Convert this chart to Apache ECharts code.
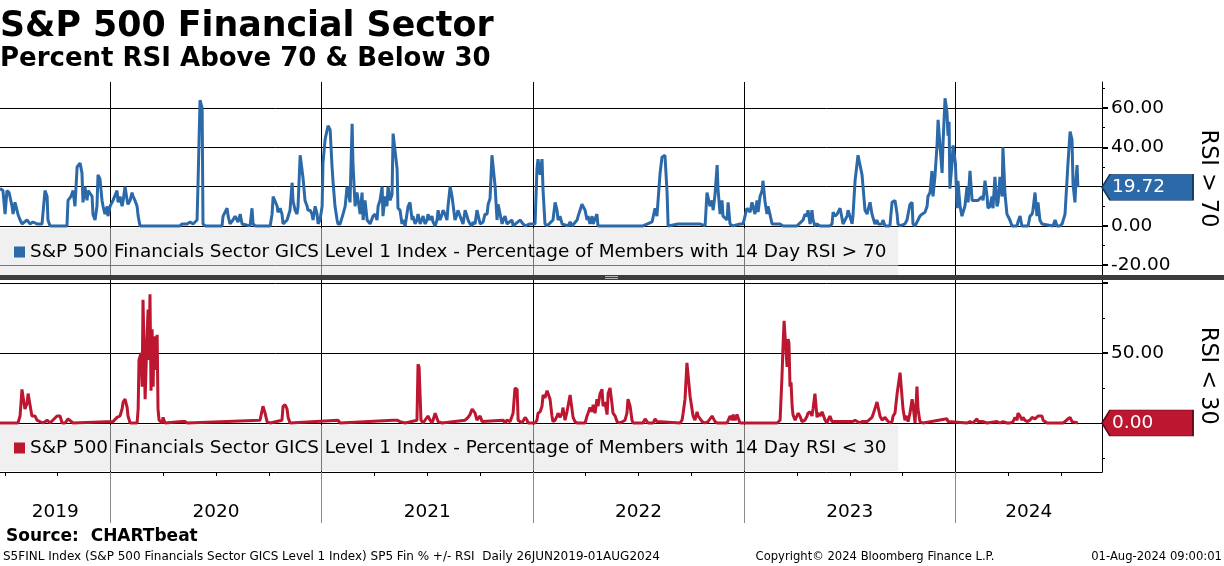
<!DOCTYPE html>
<html><head><meta charset="utf-8">
<script src="https://cdn.jsdelivr.net/npm/echarts@6/dist/echarts.min.js"></script>
<style>html,body{margin:0;padding:0;background:#fff}#c{width:1224px;height:566px}</style>
</head><body><div id="c"></div>
<script>
// ---------- categories / ticks ----------
const years = [2019, 2020, 2021, 2022, 2023, 2024];
const ticks70 = [-20, 0, 20, 40, 60];
const labels70 = [-20, 0, 40, 60];
const minor70 = [-10, 10, 30, 50, 70];
const ticks30 = [0, 50, 100];
const labels30 = [50];
const minor30 = [-25, 25, 75];

const name70 = 'S&P 500 Financials Sector GICS Level 1 Index - Percentage of Members with 14 Day RSI > 70';
const name30 = 'S&P 500 Financials Sector GICS Level 1 Index - Percentage of Members with 14 Day RSI < 30';

// ---------- series values: [decimal year, percent of members] ----------
const above70 = [
[2019.477,19],[2019.491,18],[2019.501,6],[2019.510,18],[2019.520,17],[2019.534,10],[2019.539,6],[2019.548,12],[2019.557,13],[2019.562,6],[2019.572,3],[2019.581,1],[2019.586,0],[2019.605,3],[2019.619,1],[2019.633,2],[2019.652,1],[2019.676,1],[2019.690,18],[2019.700,15],[2019.704,3],[2019.714,0],[2019.794,0],[2019.799,13],[2019.813,15],[2019.823,18],[2019.832,10],[2019.842,30],[2019.846,31],[2019.856,32],[2019.865,27],[2019.870,12],[2019.879,20],[2019.889,13],[2019.894,18],[2019.903,19],[2019.913,15],[2019.917,6],[2019.927,3],[2019.936,10],[2019.941,26],[2019.950,24],[2019.960,13],[2019.965,10],[2019.974,6],[2019.984,10],[2019.988,5],
[2019.998,10],[2020.012,13],[2020.031,18],[2020.036,12],[2020.045,15],[2020.055,10],[2020.060,13],[2020.069,20],[2020.079,13],[2020.083,11],[2020.093,13],[2020.102,17],[2020.107,15],[2020.116,13],[2020.126,10],[2020.131,5],[2020.140,0],[2020.329,0],[2020.339,1],[2020.344,2],[2020.363,1],[2020.377,2],[2020.391,1],[2020.410,3],[2020.415,24],[2020.424,64],[2020.434,60],[2020.438,1],[2020.448,0],[2020.528,0],[2020.533,5],[2020.552,9],[2020.557,5],[2020.566,1],[2020.580,3],[2020.590,5],[2020.599,6],[2020.604,2],[2020.614,6],[2020.623,1],[2020.628,0],[2020.661,0],[2020.670,9],[2020.675,1],[2020.685,0],[2020.756,0],[2020.765,6],[2020.770,15],[2020.779,14],[2020.789,10],[2020.793,7],[2020.803,9],[2020.812,6],[2020.817,1],[2020.836,3],[2020.850,8],[2020.860,22],[2020.864,13],[2020.874,8],[2020.883,6],[2020.888,10],[2020.898,36],[2020.907,36],[2020.912,24],[2020.921,13],[2020.931,10],[2020.935,8],[2020.945,8],[2020.954,6],[2020.959,3],[2020.969,10],[2020.978,6],[2020.983,1],[2020.992,3],
[2021.002,10],[2021.006,32],[2021.016,44],[2021.025,43],[2021.030,51],[2021.040,49],[2021.049,30],[2021.054,22],[2021.063,10],[2021.073,3],[2021.077,1],[2021.087,1],[2021.101,6],[2021.111,10],[2021.120,20],[2021.125,18],[2021.134,12],[2021.144,52],[2021.148,32],[2021.158,10],[2021.167,17],[2021.172,18],[2021.182,6],[2021.191,17],[2021.196,3],[2021.205,13],[2021.215,3],[2021.229,1],[2021.243,5],[2021.253,6],[2021.262,3],[2021.267,10],[2021.276,13],[2021.286,20],[2021.290,5],[2021.300,15],[2021.309,10],[2021.314,20],[2021.324,13],[2021.333,16],[2021.338,47],[2021.347,48],[2021.357,29],[2021.361,9],[2021.371,8],[2021.380,1],[2021.385,3],[2021.395,0],[2021.404,1],[2021.409,10],[2021.418,12],[2021.428,3],[2021.432,5],[2021.442,1],[2021.451,3],[2021.456,6],[2021.466,1],[2021.475,0],[2021.480,5],[2021.489,1],[2021.499,3],[2021.503,6],[2021.513,3],[2021.522,5],[2021.527,2],[2021.537,0],[2021.546,3],[2021.551,8],[2021.560,3],[2021.570,6],[2021.574,8],[2021.584,6],[2021.593,3],[2021.598,10],[2021.608,20],[2021.617,15],[2021.622,15],[2021.631,3],[2021.641,6],[2021.645,8],[2021.655,5],[2021.664,6],[2021.669,1],[2021.679,8],[2021.688,5],[2021.693,3],[2021.702,1],[2021.712,0],[2021.716,2],[2021.726,1],[2021.735,8],[2021.740,8],[2021.750,1],[2021.759,0],[2021.764,2],[2021.773,6],[2021.783,6],[2021.788,11],[2021.797,14],[2021.806,36],[2021.811,35],[2021.821,20],[2021.830,3],[2021.835,11],[2021.844,12],[2021.854,1],[2021.859,3],[2021.868,5],[2021.877,1],[2021.882,0],[2021.901,3],[2021.906,0],[2021.939,3],[2021.953,1],[2021.963,0],[2021.986,1],
[2022.010,1],[2022.019,29],[2022.024,34],[2022.034,26],[2022.043,34],[2022.048,18],[2022.057,1],[2022.067,0],[2022.095,3],[2022.105,12],[2022.114,8],[2022.119,3],[2022.128,5],[2022.138,1],[2022.142,0],[2022.166,0],[2022.176,2],[2022.185,0],[2022.209,3],[2022.214,5],[2022.223,8],[2022.232,11],[2022.237,10],[2022.247,8],[2022.256,3],[2022.261,5],[2022.270,1],[2022.280,5],[2022.285,1],[2022.294,0],[2022.303,6],[2022.308,0],[2022.507,0],[2022.516,1],[2022.521,0],[2022.564,2],[2022.569,3],[2022.578,9],[2022.587,5],[2022.602,27],[2022.611,35],[2022.616,36],[2022.625,36],[2022.635,17],[2022.640,0],[2022.687,1],[2022.696,0],[2022.777,1],[2022.782,0],[2022.791,1],[2022.815,0],[2022.824,17],[2022.829,16],[2022.838,10],[2022.848,13],[2022.853,8],[2022.862,16],[2022.872,31],[2022.876,19],[2022.886,6],[2022.895,13],[2022.900,5],[2022.919,3],[2022.924,12],[2022.933,1],[2022.947,0],[2022.980,1],[2022.995,1],
[2023.004,0],[2023.013,9],[2023.018,10],[2023.028,7],[2023.037,12],[2023.042,10],[2023.051,6],[2023.061,13],[2023.066,7],[2023.075,15],[2023.085,18],[2023.089,23],[2023.099,12],[2023.108,6],[2023.113,10],[2023.122,6],[2023.132,1],[2023.170,1],[2023.184,0],[2023.250,0],[2023.255,1],[2023.279,3],[2023.288,6],[2023.298,5],[2023.302,8],[2023.312,1],[2023.321,8],[2023.326,3],[2023.335,0],[2023.345,1],[2023.359,0],[2023.406,0],[2023.416,1],[2023.421,7],[2023.430,5],[2023.440,6],[2023.454,9],[2023.463,4],[2023.468,1],[2023.477,0],[2023.487,5],[2023.492,8],[2023.501,9],[2023.511,1],[2023.515,5],[2023.525,23],[2023.534,24],[2023.539,36],[2023.548,36],[2023.558,26],[2023.563,26],[2023.572,8],[2023.582,6],[2023.586,8],[2023.596,12],[2023.605,6],[2023.610,5],[2023.619,1],[2023.629,3],[2023.634,1],[2023.643,0],[2023.653,1],[2023.657,3],[2023.667,0],[2023.690,0],[2023.700,12],[2023.705,12],[2023.714,13],[2023.724,6],[2023.728,1],[2023.738,0],[2023.761,1],[2023.771,3],[2023.776,6],[2023.785,11],[2023.795,12],[2023.799,1],[2023.809,0],[2023.818,1],[2023.823,3],[2023.832,5],[2023.842,6],[2023.856,7],[2023.866,10],[2023.870,15],[2023.880,17],[2023.889,28],[2023.894,15],[2023.903,25],[2023.913,41],[2023.918,54],[2023.927,41],[2023.937,27],[2023.941,41],[2023.951,65],[2023.960,58],[2023.965,46],[2023.970,53],[2023.974,19],[2023.984,32],[2023.989,41],
[2024.000,32],[2024.008,9],[2024.012,23],[2024.022,10],[2024.031,5],[2024.036,6],[2024.045,10],[2024.055,20],[2024.060,12],[2024.069,28],[2024.079,13],[2024.083,12],[2024.093,13],[2024.102,12],[2024.107,13],[2024.116,13],[2024.126,15],[2024.131,13],[2024.140,23],[2024.150,15],[2024.154,9],[2024.164,10],[2024.173,15],[2024.178,9],[2024.187,25],[2024.197,10],[2024.202,12],[2024.211,25],[2024.221,15],[2024.225,40],[2024.235,16],[2024.244,6],[2024.249,5],[2024.258,3],[2024.268,0],[2024.292,0],[2024.296,2],[2024.306,5],[2024.315,0],[2024.344,0],[2024.353,5],[2024.363,6],[2024.367,8],[2024.377,17],[2024.386,5],[2024.391,12],[2024.400,3],[2024.410,1],[2024.415,0],[2024.462,0],[2024.472,3],[2024.481,0],[2024.495,0],[2024.505,1],[2024.509,0],[2024.519,6],[2024.528,7],[2024.533,32],[2024.543,48],[2024.552,44],[2024.557,21],[2024.566,12],[2024.571,24],[2024.576,31],[2024.580,19.72]
];

const below30 = [
[2019.477,0],[2019.562,0],[2019.572,5],[2019.581,24],[2019.586,23],[2019.595,10],[2019.605,14],[2019.610,21],[2019.619,20],[2019.628,5],[2019.633,6],[2019.643,5],[2019.652,2],[2019.666,1],[2019.681,0],[2019.700,2],[2019.714,0],[2019.747,5],[2019.752,5],[2019.761,5],[2019.771,0],[2019.785,0],[2019.799,3],[2019.808,3],[2019.823,0],
[2020.012,1],[2020.031,4],[2020.045,5],[2020.055,10],[2020.060,15],[2020.069,17],[2020.079,11],[2020.083,5],[2020.093,0],[2020.126,0],[2020.131,10],[2020.135,45],[2020.145,50],[2020.150,26],[2020.154,88],[2020.159,89],[2020.164,17],[2020.173,62],[2020.178,81],[2020.183,45],[2020.187,92],[2020.192,23],[2020.197,67],[2020.202,26],[2020.206,62],[2020.211,38],[2020.221,63],[2020.225,10],[2020.230,2],[2020.244,0],[2020.249,4],[2020.258,0],[2020.339,1],[2020.353,1],[2020.363,0],[2020.708,2],[2020.722,12],[2020.732,7],[2020.741,1],[2020.756,0],[2020.812,2],[2020.817,12],[2020.827,13],[2020.836,10],[2020.841,4],[2020.850,0],
[2021.077,2],[2021.087,0],[2021.338,2],[2021.357,2],[2021.371,1],[2021.395,0],[2021.451,2],[2021.456,42],[2021.461,40],[2021.470,2],[2021.480,0],[2021.503,5],[2021.513,2],[2021.522,0],[2021.527,2],[2021.537,7],[2021.546,6],[2021.551,1],[2021.570,0],[2021.679,2],[2021.693,4],[2021.702,6],[2021.712,10],[2021.716,11],[2021.726,7],[2021.735,2],[2021.750,5],[2021.759,1],[2021.764,0],[2021.859,2],[2021.868,0],[2021.877,2],[2021.892,1],[2021.901,2],[2021.906,7],[2021.915,25],[2021.925,24],[2021.930,2],[2021.948,0],[2021.963,4],[2021.972,2],[2021.977,0],
[2022.010,0],[2022.019,2],[2022.024,7],[2022.034,8],[2022.043,12],[2022.048,20],[2022.057,18],[2022.067,23],[2022.071,24],[2022.081,17],[2022.090,5],[2022.095,1],[2022.105,2],[2022.114,5],[2022.119,7],[2022.128,4],[2022.138,7],[2022.142,11],[2022.152,2],[2022.161,8],[2022.166,7],[2022.176,20],[2022.185,19],[2022.190,4],[2022.199,1],[2022.209,0],[2022.247,0],[2022.256,5],[2022.261,7],[2022.270,11],[2022.280,8],[2022.285,13],[2022.294,7],[2022.303,17],[2022.308,12],[2022.318,21],[2022.327,24],[2022.332,12],[2022.341,15],[2022.351,6],[2022.356,21],[2022.365,25],[2022.374,14],[2022.379,7],[2022.389,5],[2022.398,1],[2022.412,0],[2022.436,2],[2022.445,7],[2022.450,17],[2022.460,12],[2022.469,2],[2022.474,0],[2022.521,0],[2022.531,3],[2022.540,2],[2022.545,0],[2022.569,0],[2022.578,3],[2022.587,1],[2022.592,0],[2022.696,0],[2022.706,2],[2022.711,7],[2022.720,17],[2022.729,43],[2022.734,42],[2022.744,19],[2022.753,18],[2022.758,5],[2022.767,2],[2022.777,8],[2022.782,5],[2022.791,5],[2022.801,1],[2022.815,0],[2022.829,1],[2022.838,2],[2022.848,5],[2022.853,5],[2022.862,1],[2022.872,0],[2022.919,0],[2022.933,5],[2022.943,2],[2022.947,6],[2022.957,2],[2022.966,6],[2022.971,5],[2022.980,0],
[2023.156,0],[2023.160,1],[2023.170,2],[2023.179,33],[2023.184,55],[2023.189,73],[2023.193,73],[2023.203,40],[2023.208,60],[2023.212,57],[2023.217,26],[2023.222,29],[2023.227,12],[2023.231,6],[2023.241,2],[2023.250,5],[2023.255,7],[2023.264,5],[2023.274,1],[2023.279,2],[2023.288,2],[2023.298,5],[2023.302,7],[2023.312,8],[2023.321,5],[2023.326,10],[2023.335,21],[2023.340,21],[2023.345,4],[2023.350,7],[2023.359,5],[2023.369,8],[2023.373,7],[2023.383,2],[2023.392,0],[2023.397,2],[2023.406,5],[2023.416,1],[2023.421,0],[2023.515,1],[2023.525,2],[2023.534,1],[2023.548,0],[2023.558,1],[2023.563,2],[2023.582,1],[2023.586,2],[2023.605,4],[2023.610,6],[2023.619,7],[2023.629,15],[2023.634,14],[2023.643,5],[2023.653,2],[2023.657,1],[2023.667,4],[2023.676,2],[2023.681,3],[2023.690,0],[2023.700,1],[2023.705,5],[2023.714,7],[2023.724,21],[2023.728,20],[2023.738,36],[2023.747,36],[2023.752,10],[2023.761,2],[2023.771,5],[2023.776,1],[2023.785,7],[2023.795,17],[2023.799,13],[2023.809,0],[2023.818,26],[2023.823,10],[2023.832,1],[2023.847,0],[2023.960,3],[2023.965,1],[2023.974,0],
[2024.055,0],[2024.069,1],[2024.083,0],[2024.102,3],[2024.107,1],[2024.116,2],[2024.131,1],[2024.150,0],[2024.197,1],[2024.211,0],[2024.225,1],[2024.244,0],[2024.258,0],[2024.273,1],[2024.282,4],[2024.292,2],[2024.296,7],[2024.306,5],[2024.315,2],[2024.320,4],[2024.329,2],[2024.339,1],[2024.353,2],[2024.363,4],[2024.367,5],[2024.377,3],[2024.386,2],[2024.391,5],[2024.400,6],[2024.410,5],[2024.415,2],[2024.424,1],[2024.434,0],[2024.509,0],[2024.519,1],[2024.528,1],[2024.533,3],[2024.543,4],[2024.552,1],[2024.557,0],[2024.580,0]
];

// ---------- layout / style ----------
const xMin = 2019.477, xMax = 2024.694;
const FONT = 'DejaVu Sans';
const BLUE = '#2b69a8', RED = '#bd1630';
const yearLines = years.slice(1);
const quarterTicks = [];
years.forEach(y => [0, 0.25, 0.5, 0.75].forEach(q => { const v = y + q; if (v > xMin && v < xMax) quarterTicks.push(v); }));
const yearLabelPos = years.map(y => (Math.max(y, xMin) + Math.min(y + 1, xMax)) / 2);
const last70 = above70[above70.length - 1][1];
const last30 = below30[below30.length - 1][1];
const badgePath = 'path://M0,13L8,0L91,0L91,26L8,26Z';

function plotX(gi) {
  return { type: 'value', gridIndex: gi, min: xMin, max: xMax,
    axisLine: { show: false, onZero: false }, axisLabel: { show: false },
    axisTick: { show: false, customValues: yearLines },
    splitLine: { show: true, lineStyle: { color: '#000', width: 1 } } };
}
function mainY(gi, min, max, ticks, labels, name) {
  return { type: 'value', gridIndex: gi, position: 'right', min: min, max: max,
    axisLine: { show: true, onZero: false, lineStyle: { color: '#000', width: 1 } },
    axisTick: { show: true, customValues: ticks, length: 6, lineStyle: { color: '#000', width: 2 } },
    axisLabel: { show: true, customValues: labels, margin: 9, color: '#000', fontFamily: FONT, fontSize: 18.5,
      formatter: v => Number(v).toFixed(2) },
    splitLine: { show: true, lineStyle: { color: '#000', width: 1 } },
    name: name, nameLocation: 'middle', nameRotate: -90, nameGap: 95,
    nameTextStyle: { color: '#000', fontFamily: FONT, fontSize: 22.4 } };
}
function minorY(gi, min, max, ticks) {
  return { type: 'value', gridIndex: gi, position: 'left', offset: -1102, min: min, max: max,
    axisLine: { show: false, onZero: false }, axisLabel: { show: false }, splitLine: { show: false },
    axisTick: { show: true, inside: true, customValues: ticks, length: 3, lineStyle: { color: '#000', width: 1 } } };
}
function badge(color, border, coordY) {
  return { silent: true, symbol: badgePath, symbolSize: [91, 26], symbolOffset: [45.5, 0],
    itemStyle: { color: color, borderColor: border, borderWidth: 1 },
    label: { show: true, position: 'insideLeft', distance: 11, color: '#fff', fontFamily: FONT, fontSize: 18.5,
      formatter: p => Number(p.value).toFixed(2) },
    data: [{ coord: [xMax, coordY], value: coordY }] };
}
function legendBox(name, top, pad) {
  return { data: [name], left: 0, top: top, orient: 'horizontal', selectedMode: false,
    backgroundColor: 'rgba(226,226,226,0.53)', padding: pad, itemWidth: 11, itemHeight: 11, icon: 'rect',
    itemStyle: { borderWidth: 0 },
    textStyle: { color: '#000', fontFamily: FONT, fontSize: 18.4 } };
}

const chart = echarts.init(document.getElementById('c'), null, { renderer: 'canvas' });
chart.setOption({
  animation: false,
  backgroundColor: '#fff',
  title: [
    { text: 'S&P 500 Financial Sector', left: 0, top: 9, padding: 0,
      textStyle: { fontFamily: FONT, fontWeight: 'bold', fontSize: 34.8, color: '#000' } },
    { text: 'Percent RSI Above 70 & Below 30', left: 0, top: 46, padding: 0,
      textStyle: { fontFamily: FONT, fontWeight: 'bold', fontSize: 26, color: '#000' } }
  ],
  legend: [ legendBox(name70, 228, [15, 12, 14, 14]), legendBox(name30, 425, [14, 12, 14, 14]) ],
  grid: [
    { left: 0, right: 122, top: 82, height: 193, outerBoundsMode: 'none', containLabel: false },
    { left: 0, right: 122, top: 279.5, height: 192.5, outerBoundsMode: 'none', containLabel: false },
    { left: 0, right: 122, top: 472, height: 51, outerBoundsMode: 'none', containLabel: false }
  ],
  xAxis: [
    plotX(0), plotX(1),
    { type: 'value', gridIndex: 2, position: 'top', min: xMin, max: xMax,
      axisLine: { show: true, onZero: false, lineStyle: { color: '#000', width: 1 } },
      axisTick: { show: true, inside: true, length: 4, customValues: quarterTicks, lineStyle: { color: '#000' } },
      axisLabel: { show: true, inside: true, margin: 31, customValues: yearLabelPos, color: '#000', fontFamily: FONT, fontSize: 18.5,
        formatter: v => String(Math.floor(Number(v) + 1e-6)) },
      splitLine: { show: false } },
    { type: 'value', gridIndex: 2, position: 'bottom', min: xMin, max: xMax,
      axisLine: { show: false, onZero: false }, axisLabel: { show: false }, splitLine: { show: false },
      axisTick: { show: true, inside: true, length: 51, customValues: yearLines, lineStyle: { color: '#8a8a8a', width: 1 } } }
  ],
  yAxis: [
    mainY(0, -25, 73.3, ticks70, labels70, 'RSI > 70'),
    minorY(0, -25, 73.3, minor70),
    mainY(1, -35, 102.5, ticks30, labels30, 'RSI < 30'),
    minorY(1, -35, 102.5, minor30),
    { type: 'value', gridIndex: 2, show: false, min: 0, max: 1 }
  ],
  series: [
    { name: name70, type: 'line', xAxisIndex: 0, yAxisIndex: 0, data: above70, symbol: 'none', showSymbol: false,
      lineStyle: { color: BLUE, width: 3 }, itemStyle: { color: BLUE }, z: 3,
      markPoint: badge(BLUE, '#16385e', last70) },
    { name: name30, type: 'line', xAxisIndex: 1, yAxisIndex: 2, data: below30, symbol: 'none', showSymbol: false,
      lineStyle: { color: RED, width: 3 }, itemStyle: { color: RED }, z: 3,
      markPoint: badge(RED, '#5e0a16', last30) }
  ],
  graphic: [
    { type: 'rect', z: 100, shape: { x: 0, y: 275, width: 1224, height: 5 }, style: { fill: '#3c3c3c' } },
    { type: 'line', z: 101, shape: { x1: 605, y1: 276.5, x2: 618, y2: 276.5 }, style: { stroke: '#b4b4b4', lineWidth: 1 } },
    { type: 'line', z: 101, shape: { x1: 605, y1: 278.5, x2: 618, y2: 278.5 }, style: { stroke: '#b4b4b4', lineWidth: 1 } },
    { type: 'text', z: 100, x: 6, y: 537, style: { text: 'Source:  CHARTbeat', font: 'bold 17px "DejaVu Sans"', fill: '#000', textAlign: 'left', textVerticalAlign: 'middle' } },
    { type: 'text', z: 100, x: 3, y: 557, style: { text: 'S5FINL Index (S&P 500 Financials Sector GICS Level 1 Index) SP5 Fin % +/- RSI  Daily 26JUN2019-01AUG2024', font: '12px "DejaVu Sans"', fill: '#000', textAlign: 'left', textVerticalAlign: 'middle' } },
    { type: 'text', z: 100, x: 875, y: 557, style: { text: 'Copyright\u00A9 2024 Bloomberg Finance L.P.', font: '11.6px "DejaVu Sans"', fill: '#000', textAlign: 'center', textVerticalAlign: 'middle' } },
    { type: 'text', z: 100, x: 1222, y: 557, style: { text: '01-Aug-2024 09:00:01', font: '11.6px "DejaVu Sans"', fill: '#000', textAlign: 'right', textVerticalAlign: 'middle' } }
  ]
});
</script>
</body></html>
